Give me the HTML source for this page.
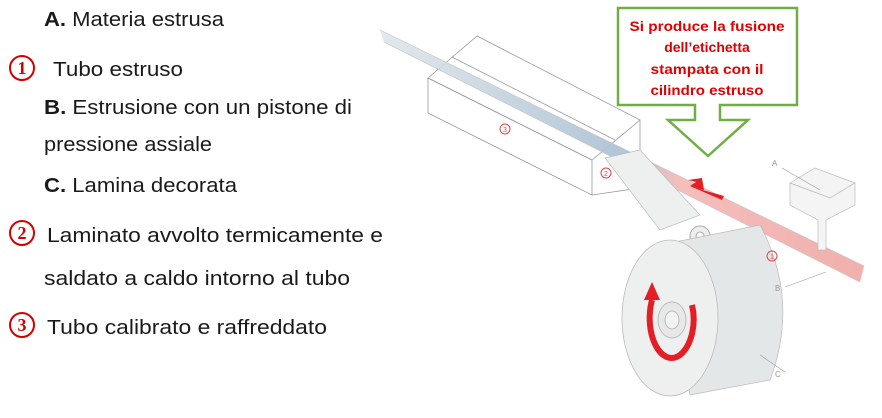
<!DOCTYPE html>
<html><head><meta charset="utf-8"><style>
html,body{margin:0;padding:0;background:#fff;}
svg{display:block}
</style></head><body>
<svg width="882" height="418" viewBox="0 0 882 418" xmlns="http://www.w3.org/2000/svg" font-family="Liberation Sans, sans-serif">
<defs>
<linearGradient id="tb" x1="0" y1="0" x2="1" y2="0">
<stop offset="0" stop-color="#dfe6ea"/><stop offset="0.5" stop-color="#a9bfd3"/><stop offset="0.62" stop-color="#f3b7b4"/><stop offset="1" stop-color="#f0a6a3"/>
</linearGradient>
</defs>
<!-- text -->
<g fill="#1a1a1a" font-size="20">
<text x="44" y="26" textLength="180" lengthAdjust="spacingAndGlyphs"><tspan font-weight="bold">A.</tspan> Materia estrusa</text>
<text x="53" y="76" textLength="130" lengthAdjust="spacingAndGlyphs">Tubo estruso</text>
<text x="44" y="114" textLength="308" lengthAdjust="spacingAndGlyphs"><tspan font-weight="bold">B.</tspan> Estrusione con un pistone di</text>
<text x="44" y="151" textLength="168" lengthAdjust="spacingAndGlyphs">pressione assiale</text>
<text x="44" y="192" textLength="193" lengthAdjust="spacingAndGlyphs"><tspan font-weight="bold">C.</tspan> Lamina decorata</text>
<text x="47" y="242" textLength="336" lengthAdjust="spacingAndGlyphs">Laminato avvolto termicamente e</text>
<text x="44" y="285" textLength="306" lengthAdjust="spacingAndGlyphs">saldato a caldo intorno al tubo</text>
<text x="47" y="334" textLength="280" lengthAdjust="spacingAndGlyphs">Tubo calibrato e raffreddato</text>
</g>
<g fill="none" stroke="#d40000" stroke-width="2">
<circle cx="22" cy="68" r="12"/><circle cx="22" cy="233" r="12"/><circle cx="22" cy="325" r="12"/>
</g>
<g fill="#d40000" font-size="18" font-weight="bold" font-family="Liberation Serif, serif" text-anchor="middle">
<text x="22" y="74">1</text><text x="22" y="239">2</text><text x="22" y="331">3</text>
</g>
<!-- box wireframe back -->
<g fill="none" stroke="#999" stroke-width="0.8">
<polygon points="428,78 477,36 640,120 592,160"/>
<polyline points="428,78 428,113 592,195 592,160"/>
<polyline points="592,195 640,188 640,120"/>
<line x1="452" y1="57" x2="615" y2="140"/>
</g>
<!-- tube -->
<polygon points="380,30 384,42 860,282 864,266" fill="url(#tb)" opacity="0.9"/>
<line x1="380" y1="30" x2="864" y2="266" stroke="#c9c9c9" stroke-width="0.7"/>
<line x1="384" y1="42" x2="860" y2="282" stroke="#c9c9c9" stroke-width="0.7"/>
<!-- film to tube -->
<polygon points="605,158 640,150 700,215 660,230" fill="#eef0f0" stroke="#bbb" stroke-width="0.7"/>
<circle cx="700" cy="236" r="10" fill="#eee" stroke="#aaa"/>
<circle cx="700" cy="236" r="4" fill="#fff" stroke="#aaa"/>
<!-- red arrow on tube -->
<polygon points="722,200 690,186 696,182 688,180 702,178 704,190 699,189 724,196" fill="#e31e24"/>
<!-- wheel -->
<path d="M660,245 L760,225 Q800,300 770,380 L690,395 Z" fill="#e4e7e7" stroke="#bbb" stroke-width="0.7"/>
<ellipse cx="670" cy="318" rx="48" ry="78" fill="#eeefef" stroke="#bbb" stroke-width="0.8"/>
<ellipse cx="672" cy="320" rx="14" ry="18" fill="#e8e8e8" stroke="#bbb"/>
<ellipse cx="672" cy="320" rx="7" ry="9" fill="#f3f3f3" stroke="#bbb"/>
<path d="M652,300 A22,40 0 0,0 680,355 A25,40 0 0,0 692,305" fill="none" stroke="#e31e24" stroke-width="6"/>
<polygon points="644,300 660,300 652,282" fill="#e31e24"/>
<!-- hopper -->
<g fill="#f4f4f4" stroke="#bbb" stroke-width="0.7">
<polygon points="790,183 815,168 855,183 830,198"/>
<polygon points="790,183 790,205 818,220 818,250 826,250 826,220 855,205 855,183 830,198"/>
</g>
<!-- box front edges -->
<g fill="none" stroke="#999" stroke-width="0.8">
<line x1="428" y1="78" x2="592" y2="160"/>
</g>
<!-- labels -->
<g fill="none" stroke="#d44" stroke-width="1">
<circle cx="505" cy="129" r="5"/><circle cx="606" cy="173" r="5"/><circle cx="772" cy="256" r="5"/>
</g>
<g fill="#d44" font-size="7" text-anchor="middle">
<text x="505" y="132">3</text><text x="606" y="176">2</text><text x="772" y="259">1</text>
</g>
<g fill="#999" font-size="8">
<text x="772" y="166">A</text><text x="775" y="291">B</text><text x="775" y="377">C</text>
</g>
<g stroke="#999" stroke-width="0.6">
<line x1="782" y1="168" x2="820" y2="190"/><line x1="785" y1="287" x2="826" y2="272"/><line x1="785" y1="372" x2="760" y2="355"/>
</g>
<!-- callout -->
<path d="M618,8 H797 V105 H720 V120 H748 L708,156 L668,120 H695 V105 H618 Z" fill="#fff" stroke="#70ad47" stroke-width="2.5"/>
<g fill="#e00000" font-size="14" font-weight="bold" text-anchor="middle">
<text x="707" y="31" textLength="155" lengthAdjust="spacingAndGlyphs">Si produce la fusione</text>
<text x="707" y="52">dell’etichetta</text>
<text x="707" y="74" textLength="113" lengthAdjust="spacingAndGlyphs">stampata con il</text>
<text x="707" y="95" textLength="113" lengthAdjust="spacingAndGlyphs">cilindro estruso</text>
</g>
</svg>
</body></html>
